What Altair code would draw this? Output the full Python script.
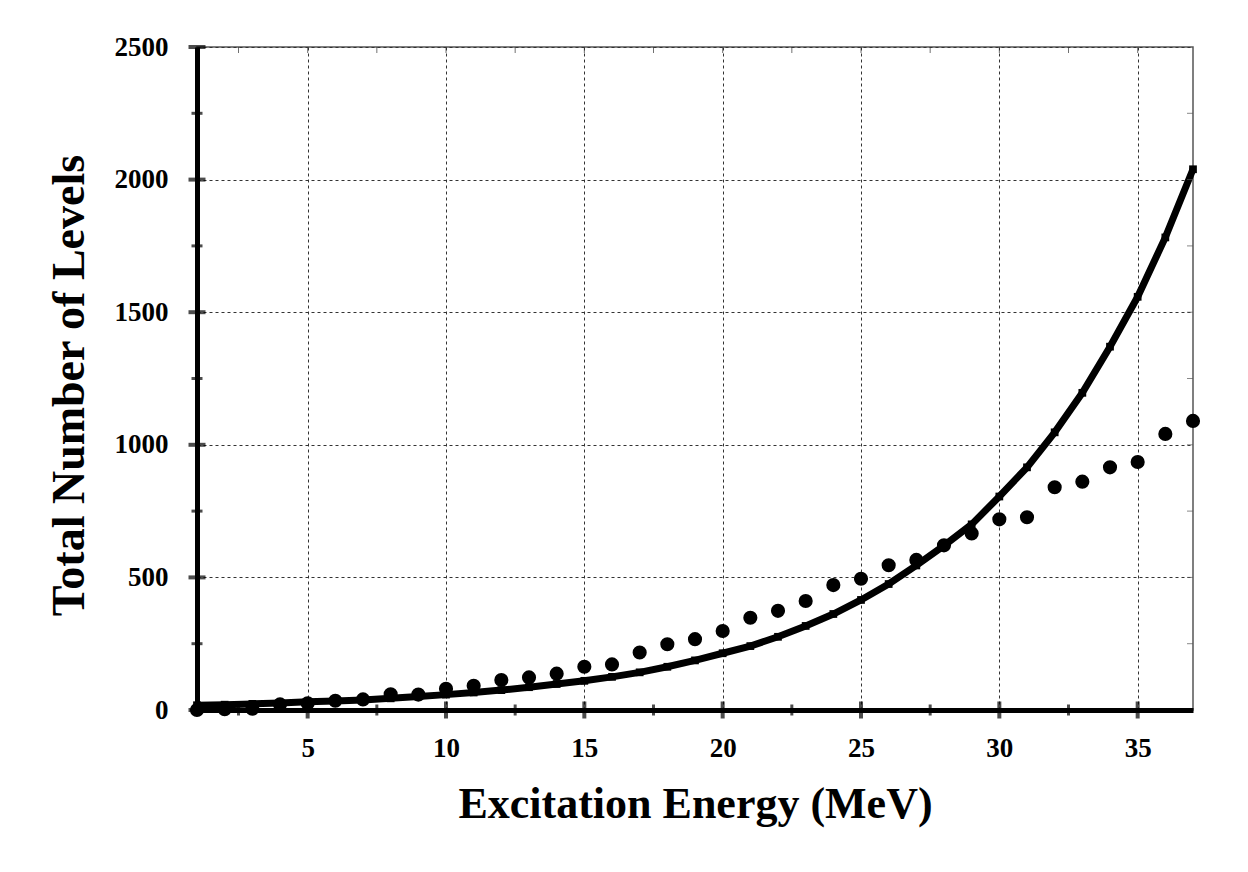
import altair as alt
import pandas as pd

# Excitation energy grid (MeV)
energy = list(range(1, 38))

# Cumulative number of levels counted at each energy
levels_counted = [0, 3, 5, 21, 25, 35, 40, 59, 58, 80,
                  91, 113, 123, 137, 163, 172, 217, 248, 267, 298,
                  348, 374, 411, 471, 495, 546, 566, 621, 666, 719,
                  727, 840, 861, 915, 935, 1041, 1090]

# Level-density model prediction at the same energies
levels_model = [18, 20, 23, 26, 31, 34, 38, 44, 51, 58,
                66, 75, 86, 98, 110, 125, 142, 163, 187, 214,
                241, 276, 317, 362, 415, 475, 545, 620, 700, 805,
                915, 1047, 1196, 1370, 1558, 1782, 2039]

# Axis ticks
x_major = [5, 10, 15, 20, 25, 30, 35]
x_minor = [2.5, 7.5, 12.5, 17.5, 22.5, 27.5, 32.5]
x_all = [2.5, 5, 7.5, 10, 12.5, 15, 17.5, 20, 22.5, 25, 27.5, 30, 32.5, 35]
y_major = [0, 500, 1000, 1500, 2000, 2500]
y_minor = [250, 750, 1250, 1750, 2250]
y_all = [250, 500, 750, 1000, 1250, 1500, 1750, 2000, 2250]

X_MIN, X_MAX = 1, 37
Y_MIN, Y_MAX = 0, 2500

FONT = "Liberation Serif"

df = pd.DataFrame({"energy": energy, "counted": levels_counted, "model": levels_model})

x_scale = alt.Scale(domain=[X_MIN, X_MAX], nice=False, zero=False)
y_scale = alt.Scale(domain=[Y_MIN, Y_MAX], nice=False)

x_axis = alt.Axis(
    values=x_major, format="d", title="Excitation Energy (MeV)", ticks=False, tickSize=0,
    grid=True, gridDash=[3, 3], gridColor="#333333", gridWidth=1,
    domainColor="black", domainWidth=5,
    labelFont=FONT, labelFontWeight="bold", labelFontSize=27, labelColor="black",
    labelPadding=25, labelFlush=False,
    titleFont=FONT, titleFontWeight="bold", titleFontSize=44, titleColor="black",
    titleBaseline="alphabetic", titleY=107,
)
y_axis = alt.Axis(
    values=y_major, format="d", title="Total Number of Levels", ticks=False, tickSize=0,
    grid=True, gridDash=[3, 3], gridColor="#333333", gridWidth=1,
    domainColor="black", domainWidth=5,
    labelFont=FONT, labelFontWeight="bold", labelFontSize=27, labelColor="black",
    labelPadding=29, labelFlush=False,
    titleFont=FONT, titleFontWeight="bold", titleFontSize=46, titleColor="black",
    titleBaseline="alphabetic", titleX=-114, titleY=338,
)


def X(field):
    return alt.X(field, scale=x_scale, axis=x_axis)


def Y(field):
    return alt.Y(field, scale=y_scale, axis=y_axis)


curve = alt.Chart(df).mark_line(color="black", strokeWidth=7).encode(
    x=X("energy:Q"), y=Y("model:Q"))

curve_marks = alt.Chart(df).mark_point(
    shape="square", size=60, filled=True, color="black", opacity=1
).encode(x=X("energy:Q"), y=Y("model:Q"))

dots = alt.Chart(df).mark_circle(size=200, color="black", opacity=1).encode(
    x=X("energy:Q"), y=Y("counted:Q"))

# Tick marks straddling the left and bottom axes
left_major = alt.Chart(pd.DataFrame({"v": y_major})).mark_tick(
    orient="horizontal", size=17, thickness=4, color="black"
).encode(x=alt.datum(X_MIN), y=Y("v:Q"))

left_minor = alt.Chart(pd.DataFrame({"v": y_minor})).mark_tick(
    orient="horizontal", size=11, thickness=3, color="black"
).encode(x=alt.datum(X_MIN), y=Y("v:Q"))

bottom_major = alt.Chart(pd.DataFrame({"v": x_major})).mark_tick(
    orient="vertical", size=17, thickness=4, color="black"
).encode(x=X("v:Q"), y=alt.datum(Y_MIN))

bottom_minor = alt.Chart(pd.DataFrame({"v": x_minor})).mark_tick(
    orient="vertical", size=11, thickness=3, color="black"
).encode(x=X("v:Q"), y=alt.datum(Y_MIN))

# Small inward ticks on the top and right frame
top_ticks = alt.Chart(pd.DataFrame({"v": x_all})).mark_tick(
    orient="vertical", size=6, thickness=1, color="#333333", yOffset=3
).encode(x=X("v:Q"), y=alt.datum(Y_MAX))

right_ticks = alt.Chart(pd.DataFrame({"v": y_all})).mark_tick(
    orient="horizontal", size=6, thickness=1, color="#555555", xOffset=-3
).encode(x=alt.datum(X_MAX), y=Y("v:Q"))

chart = alt.layer(
    curve, curve_marks, dots,
    left_major, left_minor, bottom_major, bottom_minor, top_ticks, right_ticks,
).properties(
    width=996, height=663,
    autosize=alt.AutoSizeParams(type="none"),
    padding={"left": 197, "top": 47, "right": 55, "bottom": 162},
    background="white",
).configure_view(
    stroke="#555555", strokeWidth=1.5,
)

chart.save("out.html", embed_options={"renderer": "svg", "actions": False})
